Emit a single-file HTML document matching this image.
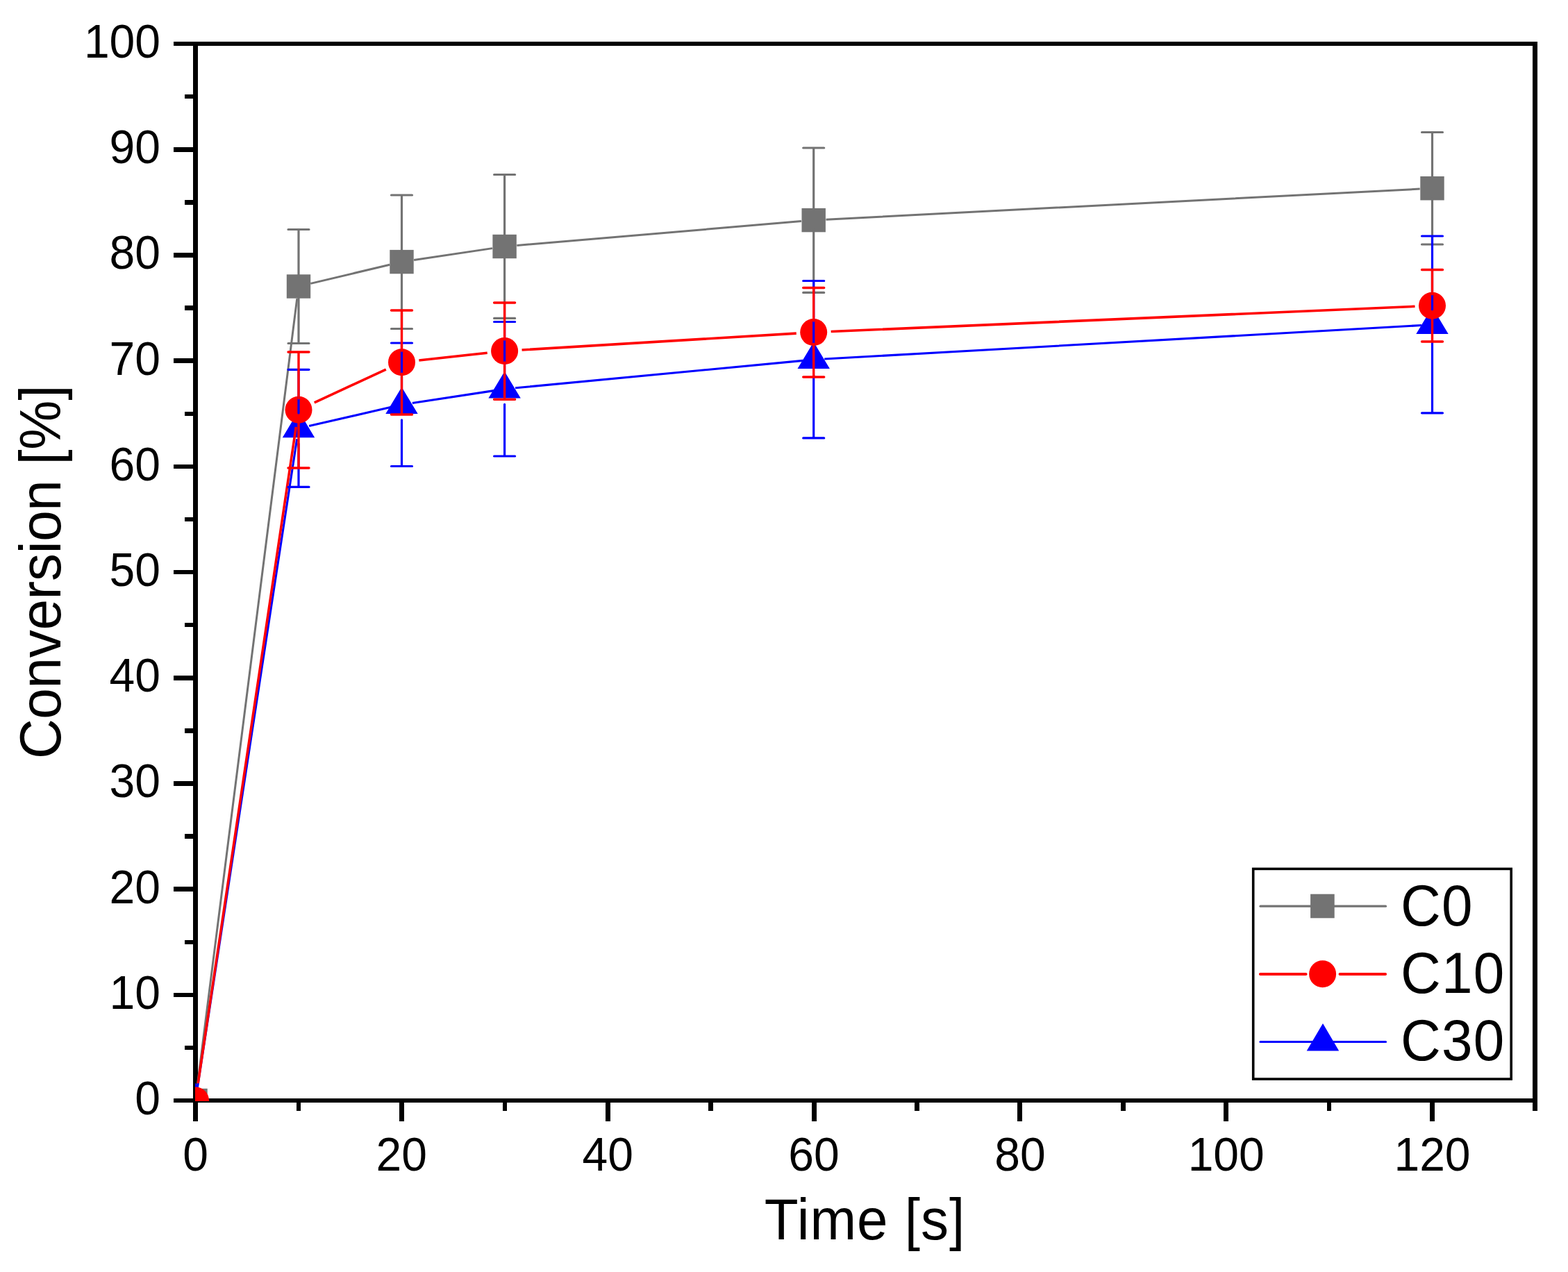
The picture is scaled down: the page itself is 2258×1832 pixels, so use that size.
<!DOCTYPE html>
<html><head><meta charset="utf-8"><title>Conversion vs Time</title>
<style>html,body{margin:0;padding:0;background:#fff;}svg{display:block;}text{font-family:"Liberation Sans",Arial,Helvetica,sans-serif;fill:#000;}</style>
</head><body>
<svg width="2258" height="1832" viewBox="0 0 2258 1832">
<rect x="0" y="0" width="2258" height="1832" fill="#fff"/>
<defs><clipPath id="pa"><rect x="281" y="63" width="1930" height="1523"/></clipPath></defs>
<g fill="#000" shape-rendering="crispEdges">
<rect x="250" y="60" width="1964" height="6"/>
<rect x="250" y="1582" width="1964" height="6"/>
<rect x="278" y="60" width="7" height="1555"/>
<rect x="2207" y="60" width="7" height="1540"/>
<rect x="250" y="1581.8" width="30" height="6.5"/>
<rect x="266" y="1505.7" width="14" height="6.5"/>
<rect x="250" y="1429.6" width="30" height="6.5"/>
<rect x="266" y="1353.5" width="14" height="6.5"/>
<rect x="250" y="1277.4" width="30" height="6.5"/>
<rect x="266" y="1201.3" width="14" height="6.5"/>
<rect x="250" y="1125.2" width="30" height="6.5"/>
<rect x="266" y="1049.1" width="14" height="6.5"/>
<rect x="250" y="973.0" width="30" height="6.5"/>
<rect x="266" y="896.9" width="14" height="6.5"/>
<rect x="250" y="820.8" width="30" height="6.5"/>
<rect x="266" y="744.7" width="14" height="6.5"/>
<rect x="250" y="668.6" width="30" height="6.5"/>
<rect x="266" y="592.5" width="14" height="6.5"/>
<rect x="250" y="516.4" width="30" height="6.5"/>
<rect x="266" y="440.3" width="14" height="6.5"/>
<rect x="250" y="364.2" width="30" height="6.5"/>
<rect x="266" y="288.1" width="14" height="6.5"/>
<rect x="250" y="212.0" width="30" height="6.5"/>
<rect x="266" y="135.9" width="14" height="6.5"/>
<rect x="250" y="59.8" width="30" height="6.5"/>
<rect x="278.0" y="1586" width="7" height="29"/>
<rect x="426.7" y="1586" width="6.5" height="14"/>
<rect x="574.8" y="1586" width="7" height="29"/>
<rect x="723.5" y="1586" width="6.5" height="14"/>
<rect x="871.7" y="1586" width="7" height="29"/>
<rect x="1020.4" y="1586" width="6.5" height="14"/>
<rect x="1168.5" y="1586" width="7" height="29"/>
<rect x="1317.2" y="1586" width="6.5" height="14"/>
<rect x="1465.4" y="1586" width="7" height="29"/>
<rect x="1614.0" y="1586" width="6.5" height="14"/>
<rect x="1762.2" y="1586" width="7" height="29"/>
<rect x="1910.9" y="1586" width="6.5" height="14"/>
<rect x="2059.0" y="1586" width="7" height="29"/>
<rect x="2207.7" y="1586" width="6.5" height="14"/>
</g>
<g font-size="66">
<text transform="translate(231.0 1605.0) scale(1 1.04)" text-anchor="end">0</text>
<text transform="translate(231.0 1452.8) scale(1 1.04)" text-anchor="end">10</text>
<text transform="translate(231.0 1300.6) scale(1 1.04)" text-anchor="end">20</text>
<text transform="translate(231.0 1148.4) scale(1 1.04)" text-anchor="end">30</text>
<text transform="translate(231.0 996.2) scale(1 1.04)" text-anchor="end">40</text>
<text transform="translate(231.0 844.0) scale(1 1.04)" text-anchor="end">50</text>
<text transform="translate(231.0 691.8) scale(1 1.04)" text-anchor="end">60</text>
<text transform="translate(231.0 539.6) scale(1 1.04)" text-anchor="end">70</text>
<text transform="translate(231.0 387.4) scale(1 1.04)" text-anchor="end">80</text>
<text transform="translate(231.0 235.2) scale(1 1.04)" text-anchor="end">90</text>
<text transform="translate(231.0 83.0) scale(1 1.04)" text-anchor="end">100</text>
<text transform="translate(281.5 1686.0) scale(1 1.04)" text-anchor="middle">0</text>
<text transform="translate(578.3 1686.0) scale(1 1.04)" text-anchor="middle">20</text>
<text transform="translate(875.2 1686.0) scale(1 1.04)" text-anchor="middle">40</text>
<text transform="translate(1172.0 1686.0) scale(1 1.04)" text-anchor="middle">60</text>
<text transform="translate(1468.9 1686.0) scale(1 1.04)" text-anchor="middle">80</text>
<text transform="translate(1765.7 1686.0) scale(1 1.04)" text-anchor="middle">100</text>
<text transform="translate(2062.5 1686.0) scale(1 1.04)" text-anchor="middle">120</text>
</g>
<text transform="translate(1245.5 1785.0) scale(1 1.04)" font-size="80" text-anchor="middle" letter-spacing="1">Time [s]</text>
<text transform="translate(87 824) rotate(-90) scale(1 1.04)" font-size="80" text-anchor="middle" letter-spacing="-0.3">Conversion [%]</text>
<g clip-path="url(#pa)">
<path d="M283.74 1567.34L427.76 430.16M447.31 408.37L561.19 381.23M596.11 374.47L708.99 357.63M744.34 353.49L1153.96 318.61M1189.48 316.18L2044.72 272.12" stroke="#737373" stroke-width="3" fill="none"/>
<rect x="264.30" y="1567.80" width="34.40" height="34.40" fill="#737373"/>
<rect x="412.80" y="395.30" width="34.40" height="34.40" fill="#737373"/>
<rect x="561.30" y="359.90" width="34.40" height="34.40" fill="#737373"/>
<rect x="709.40" y="337.80" width="34.40" height="34.40" fill="#737373"/>
<rect x="1154.50" y="299.90" width="34.40" height="34.40" fill="#737373"/>
<rect x="2045.30" y="254.00" width="34.40" height="34.40" fill="#737373"/>
<path d="M283.85 1569.68L427.65 632.32M445.10 613.52L563.40 586.28M593.82 580.47L711.28 562.63M742.03 558.83L1156.27 519.37M1187.18 517.03L2047.02 468.57" stroke="#0000FF" stroke-width="3.1" fill="none"/>
<path d="M281.50 1559.60L304.70 1598.20L258.30 1598.20Z" fill="#0000FF"/>
<path d="M430.00 591.60L453.20 630.20L406.80 630.20Z" fill="#0000FF"/>
<path d="M578.50 557.40L601.70 596.00L555.30 596.00Z" fill="#0000FF"/>
<path d="M726.60 534.90L749.80 573.50L703.40 573.50Z" fill="#0000FF"/>
<path d="M1171.70 492.50L1194.90 531.10L1148.50 531.10Z" fill="#0000FF"/>
<path d="M2062.50 442.30L2085.70 480.90L2039.30 480.90Z" fill="#0000FF"/>
<path d="M285.19 1560.27L426.31 615.03M452.70 579.82L555.80 532.18M603.35 518.98L701.75 508.22M751.55 503.99L1146.75 480.11M1196.68 477.52L2037.52 441.28" stroke="#FF0000" stroke-width="3.6" fill="none"/>
<circle cx="281.50" cy="1585.00" r="19.5" fill="#FF0000"/>
<circle cx="430.00" cy="590.30" r="19.5" fill="#FF0000"/>
<circle cx="578.50" cy="521.70" r="19.5" fill="#FF0000"/>
<circle cx="726.60" cy="505.50" r="19.5" fill="#FF0000"/>
<circle cx="1171.70" cy="478.60" r="19.5" fill="#FF0000"/>
<circle cx="2062.50" cy="440.20" r="19.5" fill="#FF0000"/>
<path d="M430.00 398.50V330.50M415.00 330.50H445.00M430.00 426.50V494.50M415.00 494.50H445.00M578.50 363.10V281.00M563.50 281.00H593.50M578.50 391.10V473.50M563.50 473.50H593.50M726.60 341.00V251.50M711.60 251.50H741.60M726.60 369.00V458.40M711.60 458.40H741.60M1171.70 303.10V213.00M1156.70 213.00H1186.70M1171.70 331.10V421.40M1156.70 421.40H1186.70M2062.50 257.20V190.50M2047.50 190.50H2077.50M2062.50 285.20V352.00M2047.50 352.00H2077.50" stroke="#737373" stroke-width="3.2" stroke-linecap="round" fill="none"/>
<path d="M430.00 595.00V532.30M415.00 532.30H445.00M430.00 639.00V701.40M415.00 701.40H445.00M578.50 560.80V494.00M563.50 494.00H593.50M578.50 604.80V671.50M563.50 671.50H593.50M726.60 538.30V463.50M711.60 463.50H741.60M726.60 582.30V657.00M711.60 657.00H741.60M1171.70 495.90V404.50M1156.70 404.50H1186.70M1171.70 539.90V630.90M1156.70 630.90H1186.70M2062.50 445.70V340.00M2047.50 340.00H2077.50M2062.50 489.70V594.80M2047.50 594.80H2077.50" stroke="#0000FF" stroke-width="3.2" stroke-linecap="round" fill="none"/>
<path d="M430.00 573.80V507.00M415.00 507.00H445.00M430.00 606.80V674.00M415.00 674.00H445.00M578.50 505.20V447.00M563.50 447.00H593.50M578.50 538.20V597.00M563.50 597.00H593.50M726.60 489.00V436.00M711.60 436.00H741.60M726.60 522.00V575.30M711.60 575.30H741.60M1171.70 462.10V414.50M1156.70 414.50H1186.70M1171.70 495.10V543.00M1156.70 543.00H1186.70M2062.50 423.70V388.50M2047.50 388.50H2077.50M2062.50 456.70V492.00M2047.50 492.00H2077.50" stroke="#FF0000" stroke-width="3.4" stroke-linecap="round" fill="none"/>
</g>
<rect x="1804.7" y="1251.4" width="371.5" height="302.7" fill="none" stroke="#000" stroke-width="3.6"/>
<path d="M1815 1305.2H1995.5" stroke="#737373" stroke-width="3.2" stroke-linecap="round"/>
<rect x="1887.10" y="1287.70" width="34.60" height="34.60" fill="#737373"/>
<path d="M1815 1403H1880.5M1929.6 1403H1995" stroke="#FF0000" stroke-width="4.2" stroke-linecap="round"/>
<circle cx="1904.60" cy="1402.80" r="19.5" fill="#FF0000"/>
<path d="M1815 1500.5H1995.5" stroke="#0000FF" stroke-width="3.2" stroke-linecap="round"/>
<path d="M1905 1474L1928.2 1513.6L1881.7 1513.6Z" fill="#0000FF"/>
<g font-size="80">
<text transform="translate(2017.0 1333.0) scale(1 1.04)" letter-spacing="1.2">C0</text>
<text transform="translate(2017.0 1430.0) scale(1 1.04)" letter-spacing="1.2">C10</text>
<text transform="translate(2017.0 1527.0) scale(1 1.04)" letter-spacing="1.2">C30</text>
</g>
</svg>
</body></html>
